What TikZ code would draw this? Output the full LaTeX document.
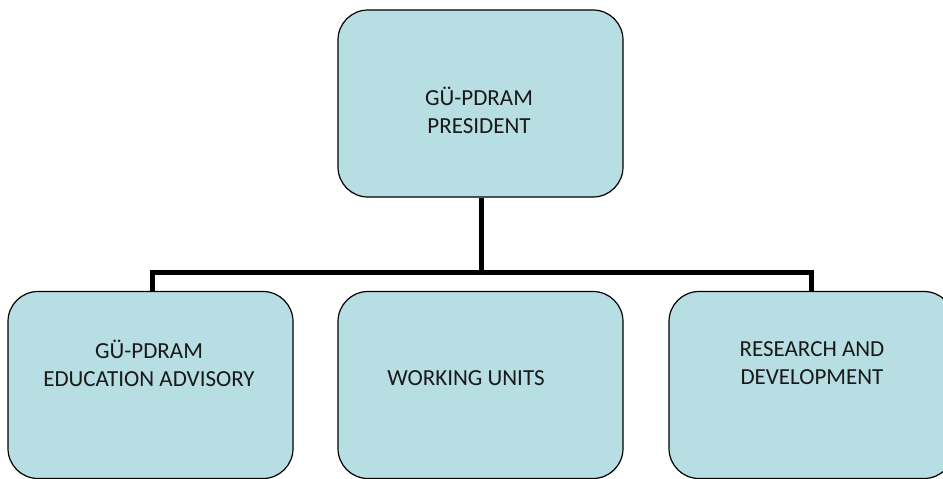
\documentclass[tikz,border=0pt]{standalone}
\usepackage{fontspec}
\setmainfont{Carlito}
\definecolor{boxfill}{RGB}{183,222,226}
\begin{document}
\begin{tikzpicture}[x=1pt,y=-1pt,
  orgbox/.style={draw=black,line width=1.2pt,fill=boxfill,rounded corners=30pt,
    minimum width=285pt,minimum height=187pt,inner sep=0pt},
  boxtext/.style={font=\fontsize{23}{28}\selectfont,align=center,inner sep=0pt,text=black!90},
  conn/.style={line width=5pt}]
\useasboundingbox (0,0) rectangle (943,479);
\node[orgbox] (top) at (480.5,103.5) {};
\node[orgbox] (left) at (150.5,385) {};
\node[orgbox] (mid) at (480.5,385) {};
\node[orgbox] (right) at (811.5,385) {};
\node[boxtext] (ttop) at (479,110) {GÜ-PDRAM\\PRESIDENT};
\node[boxtext] (tleft) at (149,363.5) {GÜ-PDRAM\\EDUCATION ADVISORY};
\node[boxtext] (tmid) at (466,378) {WORKING UNITS};
\node[boxtext] (tright) at (812,363.5) {RESEARCH AND\\DEVELOPMENT};
\coordinate (bus) at (481,272);
\draw[conn] (top.south -| bus) -- (bus);
\draw[conn] ([xshift=1.5pt]left.north) |- (bus) -| (right.north);
\end{tikzpicture}
\end{document}
